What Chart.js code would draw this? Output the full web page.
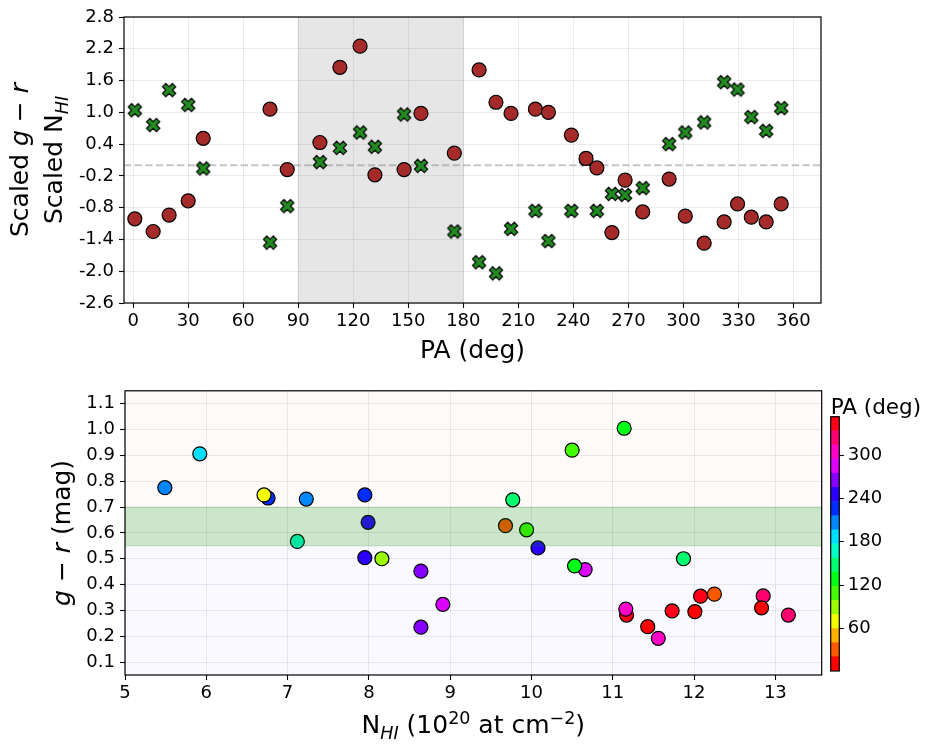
<!DOCTYPE html>
<html><head><meta charset="utf-8">
<script src="https://cdn.jsdelivr.net/npm/chart.js@4.4.0/dist/chart.umd.min.js"></script>
<style>
body{margin:0;background:#fff;width:935px;height:751px;position:relative;overflow:hidden;}
canvas{position:absolute;}
</style></head><body>
<canvas id="top" width="935" height="375" style="left:0;top:0"></canvas>
<canvas id="bot" width="935" height="376" style="left:0;top:375px"></canvas>
<canvas id="cbar" width="115" height="376" style="left:820px;top:375px"></canvas>
<script>
// ---- data ----
const pa        = [0.9, 10.9, 19.6, 30.0, 38.2, 74.6, 84.0, 101.8, 112.7, 123.7, 131.8, 147.7, 156.9, 175.1, 188.6, 197.8, 206.0, 219.3, 226.4, 238.9, 246.9, 252.8, 261.0, 268.2, 277.8, 292.2, 301.0, 311.3, 322.2, 329.5, 337.0, 345.1, 353.3];
const grScaled  = [-1.01, -1.25, -0.94, -0.67, 0.51, 1.06, -0.08, 0.43, 1.85, 2.25, -0.18, -0.08, 0.98, 0.23, 1.80, 1.19, 0.98, 1.06, 1.00, 0.57, 0.13, -0.05, -1.27, -0.28, -0.88, -0.26, -0.96, -1.47, -1.07, -0.73, -0.98, -1.07, -0.73];
const nhiScaled = [1.04, 0.76, 1.42, 1.14, -0.06, -1.46, -0.77, 0.06, 0.33, 0.62, 0.35, 0.96, -0.01, -1.25, -1.83, -2.04, -1.20, -0.86, -1.43, -0.86, 0.12, -0.86, -0.54, -0.56, -0.43, 0.40, 0.62, 0.81, 1.57, 1.43, 0.91, 0.65, 1.08];
const nhi       = [12.01, 11.43, 12.83, 12.25, 9.68, 6.71, 8.16, 9.94, 10.50, 11.14, 10.53, 11.87, 9.77, 7.12, 5.92, 5.49, 7.23, 7.95, 6.76, 7.99, 10.08, 7.95, 8.64, 8.64, 8.91, 10.66, 11.16, 11.56, 13.16, 12.85, 11.73, 11.17, 12.08];
const gr        = [0.295, 0.237, 0.310, 0.363, 0.628, 0.747, 0.500, 0.612, 0.920, 1.005, 0.472, 0.500, 0.728, 0.567, 0.906, 0.775, 0.731, 0.747, 0.735, 0.641, 0.542, 0.504, 0.235, 0.452, 0.323, 0.458, 0.305, 0.192, 0.282, 0.356, 0.298, 0.282, 0.355];

// ---- tick labels ----
const paTicks     = [0, 30, 60, 90, 120, 150, 180, 210, 240, 270, 300, 330, 360];
const scaledTicks = [-2.6, -2.0, -1.4, -0.8, -0.2, 0.4, 1.0, 1.6, 2.2, 2.8];
const nhiTicks    = [5, 6, 7, 8, 9, 10, 11, 12, 13];
const grTicks     = [0.1, 0.2, 0.3, 0.4, 0.5, 0.6, 0.7, 0.8, 0.9, 1.0, 1.1];
const cbarTicks   = [60, 120, 180, 240, 300];

// ---- colormap (matplotlib "hsv", 18 discrete levels) ----
const NBINS = 18;
const vmin = Math.min(...pa), vmax = Math.max(...pa);
const HSV = {
  r:[[0,1],[0.158730,1],[0.174603,0.96875],[0.333333,0.03125],[0.349206,0],[0.666667,0],[0.682540,0.03125],[0.841270,0.96875],[0.857143,1],[1,1]],
  g:[[0,0],[0.158730,0.9375],[0.174603,1],[0.507937,1],[0.666667,0.0625],[0.682540,0],[1,0]],
  b:[[0,0],[0.333333,0],[0.349206,0.0625],[0.507937,1],[0.841270,1],[0.857143,0.9375],[1,0.09375]]
};
function interp(p,t){for(let i=1;i<p.length;i++){if(t<=p[i][0]){const [x0,y0]=p[i-1],[x1,y1]=p[i];return y0+(y1-y0)*(t-x0)/(x1-x0);}}return p[p.length-1][1];}
function hsvColor(t){return 'rgb('+Math.round(255*interp(HSV.r,t))+','+Math.round(255*interp(HSV.g,t))+','+Math.round(255*interp(HSV.b,t))+')';}
function binOf(v){let i=Math.floor((v-vmin)/(vmax-vmin)*NBINS);return Math.max(0,Math.min(NBINS-1,i));}
function paColor(v){return hsvColor(binOf(v)/(NBINS-1));}

const FAM = "'DejaVu Sans'";
const TICKFONT = {family:'DejaVu Sans', size:18};

// filled "X" marker
function makeX(){
  const c=document.createElement('canvas'); c.width=20; c.height=20;
  const g=c.getContext('2d');
  const u=14/6;
  const pts=[[-1,-3],[1,-3],[1,-1],[3,-1],[3,1],[1,1],[1,3],[-1,3],[-1,1],[-3,1],[-3,-1],[-1,-1]];
  const a=Math.PI/4;
  g.beginPath();
  pts.forEach((p,i)=>{const x=(p[0]*Math.cos(a)-p[1]*Math.sin(a))*u+10, y=(p[0]*Math.sin(a)+p[1]*Math.cos(a))*u+10; i?g.lineTo(x,y):g.moveTo(x,y);});
  g.closePath(); g.fillStyle='#228b22'; g.fill(); g.lineWidth=1.2; g.strokeStyle='#000'; g.lineJoin='miter'; g.stroke();
  return c;
}
const xMarker = makeX();

function drawRich(ctx, segs, size, cx, cy, rot){
  ctx.save(); ctx.translate(cx,cy); ctx.rotate(rot);
  const parts=segs.map(s=>{const sz=(s.sub||s.sup)?size*0.7:size;const font=(s.it?'italic ':'')+sz+'px '+FAM;ctx.font=font;
    return {t:s.t,font,w:ctx.measureText(s.t).width,dy:s.sub?size*0.22:(s.sup?-size*0.38:0)};});
  const total=parts.reduce((a,p)=>a+p.w,0);
  let x=-total/2; ctx.fillStyle='#000'; ctx.textBaseline='alphabetic'; ctx.textAlign='left';
  for(const p of parts){ctx.font=p.font;ctx.fillText(p.t,x,p.dy);x+=p.w;}
  ctx.restore();
}

function gridOpts(){return {color:'rgba(0,0,0,0.08)', lineWidth:1, tickColor:'#000', tickLength:5, tickWidth:1.1, drawTicks:true};}

// ---------------- top chart ----------------
const topPlugin = {
  id:'topDeco',
  beforeDatasetsDraw(chart){
    const {ctx, chartArea:a, scales:{x,y}} = chart;
    ctx.save();
    const x0=x.getPixelForValue(90), x1=x.getPixelForValue(180);
    ctx.fillStyle='rgba(128,128,128,0.2)'; ctx.fillRect(x0,a.top,x1-x0,a.bottom-a.top);
    ctx.strokeStyle='rgba(128,128,128,0.2)'; ctx.lineWidth=1;
    ctx.beginPath(); ctx.moveTo(x0,a.top); ctx.lineTo(x0,a.bottom); ctx.moveTo(x1,a.top); ctx.lineTo(x1,a.bottom); ctx.stroke();
    const y0=y.getPixelForValue(0);
    ctx.strokeStyle='rgba(128,128,128,0.45)'; ctx.lineWidth=2; ctx.setLineDash([7.4,3.2]);
    ctx.beginPath(); ctx.moveTo(a.left,y0); ctx.lineTo(a.right,y0); ctx.stroke();
    ctx.restore();
  },
  afterDraw(chart){
    const {ctx, chartArea:a} = chart;
    ctx.save(); ctx.strokeStyle='#000'; ctx.lineWidth=1.2; ctx.strokeRect(a.left,a.top,a.right-a.left,a.bottom-a.top); ctx.restore();
    const cy=(a.top+a.bottom)/2;
    drawRich(ctx,[{t:'Scaled '},{t:'g',it:true},{t:' \u2212 '},{t:'r',it:true}],25,28,cy,-Math.PI/2);
    drawRich(ctx,[{t:'Scaled N'},{t:'HI',it:true,sub:true}],25,62,cy,-Math.PI/2);
    drawRich(ctx,[{t:'PA (deg)'}],25,(a.left+a.right)/2,358,0);
  }
};

new Chart(document.getElementById('top'), {
  type:'scatter',
  data:{datasets:[
    {label:'Scaled g-r', data:pa.map((p,i)=>({x:p,y:grScaled[i]})), backgroundColor:'#a52a2a', borderColor:'#000', borderWidth:1.2, pointRadius:7, order:0},
    {label:'Scaled NHI', data:pa.map((p,i)=>({x:p,y:nhiScaled[i]})), pointStyle:xMarker, pointRadius:7, order:1}
  ]},
  options:{
    responsive:false, animation:false, events:[],
    layout:{padding:{top:17,right:114,bottom:12,left:0}},
    plugins:{legend:{display:false}, tooltip:{enabled:false}},
    scales:{
      x:{type:'linear', min:-5, max:375,
         afterBuildTicks:s=>{s.ticks=paTicks.map(v=>({value:v}));},
         afterFit:s=>{s.height=60;},
         grid:gridOpts(), border:{display:false},
         ticks:{font:TICKFONT, color:'#000', padding:3, maxRotation:0, autoSkip:false, callback:v=>String(v)}},
      y:{type:'linear', min:-2.6, max:2.8,
         afterBuildTicks:s=>{s.ticks=scaledTicks.map(v=>({value:v}));},
         afterFit:s=>{s.width=124;},
         grid:gridOpts(), border:{display:false},
         ticks:{font:TICKFONT, color:'#000', padding:5, autoSkip:false, callback:v=>Number(v).toFixed(1)}}
    }
  },
  plugins:[topPlugin]
});

// ---------------- bottom chart ----------------
const botPlugin = {
  id:'botDeco',
  beforeDatasetsDraw(chart){
    const {ctx, chartArea:a, scales:{y}} = chart;
    ctx.save();
    const y7=y.getPixelForValue(0.7), y55=y.getPixelForValue(0.55);
    ctx.fillStyle='rgba(255,0,0,0.02)'; ctx.fillRect(a.left,a.top,a.right-a.left,y7-a.top);
    ctx.fillStyle='rgba(0,0,255,0.025)'; ctx.fillRect(a.left,y55,a.right-a.left,a.bottom-y55);
    ctx.restore();
  },
  afterDatasetsDraw(chart){
    const {ctx, chartArea:a, scales:{y}} = chart;
    ctx.save();
    const y7=y.getPixelForValue(0.7), y55=y.getPixelForValue(0.55);
    ctx.fillStyle='rgba(0,128,0,0.2)'; ctx.fillRect(a.left,y7,a.right-a.left,y55-y7);
    ctx.strokeStyle='rgba(0,128,0,0.2)'; ctx.lineWidth=1;
    ctx.beginPath(); ctx.moveTo(a.left,y7); ctx.lineTo(a.right,y7); ctx.moveTo(a.left,y55); ctx.lineTo(a.right,y55); ctx.stroke();
    ctx.restore();
  },
  afterDraw(chart){
    const {ctx, chartArea:a} = chart;
    ctx.save(); ctx.strokeStyle='#000'; ctx.lineWidth=1.2; ctx.strokeRect(a.left,a.top,a.right-a.left,a.bottom-a.top); ctx.restore();
    const cy=(a.top+a.bottom)/2;
    drawRich(ctx,[{t:'g',it:true},{t:' \u2212 '},{t:'r',it:true},{t:' (mag)'}],25,70,cy,-Math.PI/2);
    drawRich(ctx,[{t:'N'},{t:'HI',it:true,sub:true},{t:' (10'},{t:'20',sup:true},{t:' at cm'},{t:'\u22122',sup:true},{t:')'}],25,(a.left+a.right)/2,358,0);
  }
};

const drawOrder = pa.map((_,i)=>pa.length-1-i);
new Chart(document.getElementById('bot'), {
  type:'scatter',
  data:{datasets:[
    {label:'g-r vs NHI', data:drawOrder.map(i=>({x:nhi[i],y:gr[i]})),
     backgroundColor:drawOrder.map(i=>paColor(pa[i])), borderColor:'#000', borderWidth:1.2, pointRadius:7}
  ]},
  options:{
    responsive:false, animation:false, events:[],
    layout:{padding:{top:14.3,right:113.3,bottom:16,left:0}},
    plugins:{legend:{display:false}, tooltip:{enabled:false}},
    scales:{
      x:{type:'linear', min:5, max:13.57,
         afterBuildTicks:s=>{s.ticks=nhiTicks.map(v=>({value:v}));},
         afterFit:s=>{s.height=60;},
         grid:gridOpts(), border:{display:false},
         ticks:{font:TICKFONT, color:'#000', padding:3, maxRotation:0, autoSkip:false, callback:v=>String(v)}},
      y:{type:'linear', min:0.05, max:1.15,
         afterBuildTicks:s=>{s.ticks=grTicks.map(v=>({value:v}));},
         afterFit:s=>{s.width=125;},
         grid:gridOpts(), border:{display:false},
         ticks:{font:TICKFONT, color:'#000', padding:5, autoSkip:false, callback:v=>Number(v).toFixed(1)}}
    }
  },
  plugins:[botPlugin]
});

// ---------------- colorbar ----------------
const binEdges = Array.from({length:NBINS+1},(_,i)=>vmin+i*(vmax-vmin)/NBINS);
const cbarPlugin = {
  id:'cbarDeco',
  afterDraw(chart){
    const {ctx, chartArea:a} = chart;
    ctx.save(); ctx.strokeStyle='#000'; ctx.lineWidth=1.2; ctx.strokeRect(a.left,a.top,a.right-a.left,a.bottom-a.top);
    ctx.font='21.5px '+FAM; ctx.fillStyle='#000'; ctx.textAlign='left'; ctx.textBaseline='alphabetic';
    ctx.fillText('PA (deg)', a.left, a.top-3);
    ctx.restore();
  }
};
new Chart(document.getElementById('cbar'), {
  type:'bar',
  data:{labels:[''], datasets:Array.from({length:NBINS},(_,i)=>({
    label:'bin'+i, data:[[binEdges[i],binEdges[i+1]]], backgroundColor:hsvColor(i/(NBINS-1)),
    borderWidth:0, grouped:false, barPercentage:1, categoryPercentage:1
  }))},
  options:{
    responsive:false, animation:false, events:[],
    layout:{padding:{top:41.7,right:0,bottom:80,left:10.7}},
    plugins:{legend:{display:false}, tooltip:{enabled:false}},
    scales:{
      x:{display:false},
      y:{type:'linear', position:'right', min:vmin, max:vmax,
         afterBuildTicks:s=>{s.ticks=cbarTicks.map(v=>({value:v}));},
         afterFit:s=>{s.width=95.7;},
         grid:{display:true, drawOnChartArea:false, tickColor:'#000', tickLength:4.5, tickWidth:1.1},
         border:{display:false},
         ticks:{font:TICKFONT, color:'#000', padding:4, autoSkip:false, callback:v=>String(v)}}
    }
  },
  plugins:[cbarPlugin]
});
</script>
</body></html>
